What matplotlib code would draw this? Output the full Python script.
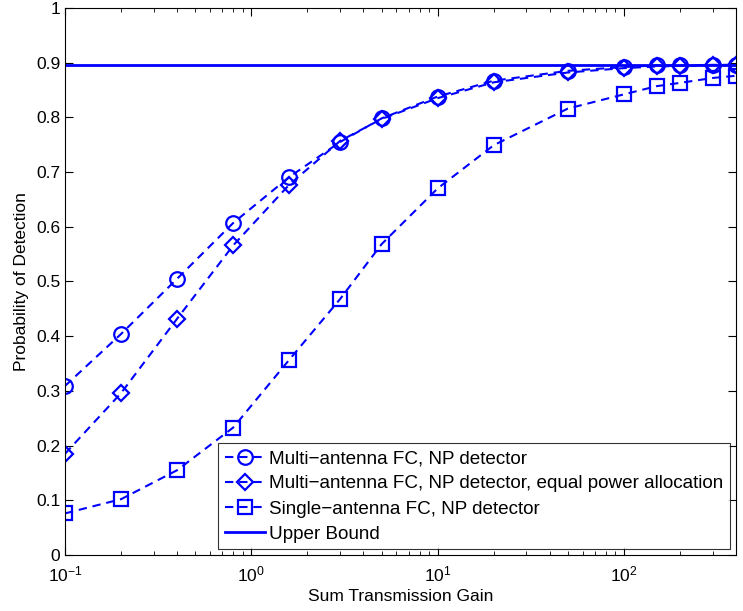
import matplotlib
matplotlib.use('Agg')
import matplotlib.pyplot as plt
import numpy as np

plt.rcParams['font.family'] = ['Liberation Sans', 'DejaVu Sans']
plt.rcParams['mathtext.fontset'] = 'custom'
plt.rcParams['mathtext.rm'] = 'Liberation Sans'
plt.rcParams['mathtext.it'] = 'Liberation Sans:italic'

# data
gain = [0.1, 0.2, 0.4, 0.8, 1.6, 3, 5, 10, 20, 50, 100, 150, 200, 300, 400]
pd_multi = [0.309, 0.404, 0.505, 0.607, 0.691, 0.755, 0.798, 0.838, 0.867, 0.885,
            0.892, 0.895, 0.895, 0.896, 0.896]
pd_multi_eq = [0.185, 0.296, 0.432, 0.566, 0.677, 0.757, 0.797, 0.835, 0.864, 0.882,
               0.890, 0.893, 0.894, 0.895, 0.895]
pd_single = [0.076, 0.102, 0.155, 0.233, 0.357, 0.468, 0.568, 0.670, 0.749, 0.816,
             0.842, 0.857, 0.863, 0.872, 0.876]
upper_bound = 0.895

labels = ['Multi\u2212antenna FC, NP detector',
          'Multi\u2212antenna FC, NP detector, equal power allocation',
          'Single\u2212antenna FC, NP detector',
          'Upper Bound']

fig = plt.figure(figsize=(7.43, 6.11), dpi=100)
ax = fig.add_axes([0.0875, 0.0917, 0.9031, 0.8953])

blue = (0, 0, 1)
dash = (4, 2.8)
ax.plot(gain, pd_multi, color=blue, ls='--', dashes=dash, lw=1.5, marker='o', ms=10.5,
        mfc='none', mew=1.6, label=labels[0])
ax.plot(gain, pd_multi_eq, color=blue, ls='--', dashes=dash, lw=1.5, marker='D', ms=8.5,
        mfc='none', mew=1.6, label=labels[1])
ax.plot(gain, pd_single, color=blue, ls='--', dashes=dash, lw=1.5, marker='s', ms=9.5,
        mfc='none', mew=1.6, label=labels[2])
ax.axhline(upper_bound, color=blue, lw=2, label=labels[3])

ax.set_xscale('log')
ax.set_xlim(0.1, 400)
ax.set_ylim(0, 1)
ax.set_yticks(np.arange(0, 1.01, 0.1))
ax.set_yticklabels(['0', '0.1', '0.2', '0.3', '0.4', '0.5', '0.6', '0.7', '0.8', '0.9', '1'])
ax.tick_params(which='both', direction='in', top=True, right=True, labelsize=12.5)
ax.tick_params(axis='x', which='major', pad=7)
ax.tick_params(which='major', length=6)
ax.tick_params(which='minor', length=3)
for s in ax.spines.values():
    s.set_linewidth(0.8)

ax.set_xlabel('Sum Transmission Gain', fontsize=12.5, labelpad=3)
ax.set_ylabel('Probability of Detection', fontsize=12.5, labelpad=5)

leg = ax.legend(loc='lower right', fontsize=13.6, frameon=True, fancybox=False,
                edgecolor='black', borderpad=0.35, labelspacing=0.42, handlelength=2.1,
                handletextpad=0.25, borderaxespad=0.3)
leg.get_frame().set_linewidth(0.8)

fig.savefig('out.png', dpi=100)
